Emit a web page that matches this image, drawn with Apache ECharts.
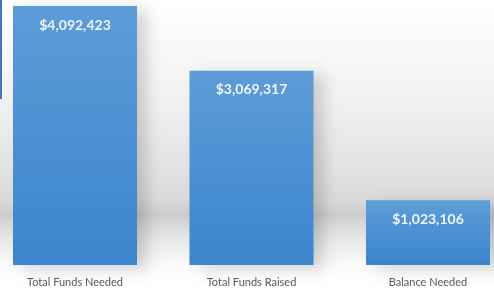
<!DOCTYPE html>
<html>
<head>
<meta charset="utf-8">
<script src="https://cdn.jsdelivr.net/npm/echarts@6/dist/echarts.min.js"></script>
<style>
    html, body { margin: 0; padding: 0; background: #ffffff; }
    #chart { width: 494px; height: 289px; }
</style>
</head>
<body>
<div id="chart"></div>
<script>
const categories = ['Total Funds Needed', 'Total Funds Raised', 'Balance Needed'];
const amounts = [4092423, 3069317, 1023106];

(function () {
    const chart = echarts.init(document.getElementById('chart'));
    const option = {
        animation: false,
        backgroundColor: {
            type: 'linear', x: 0, y: 0, x2: 0, y2: 1,
            colorStops: [
                { offset: 0, color: '#ffffff' },
                { offset: 0.35, color: '#f1f1f1' },
                { offset: 0.62, color: '#e0e0e0' },
                { offset: 0.7, color: '#d8d8d8' },
                { offset: 0.74, color: '#cdcdcd' },
                { offset: 0.83, color: '#e8e8e8' },
                { offset: 0.92, color: '#fbfbfb' },
                { offset: 1, color: '#ffffff' }
            ]
        },
        grid: {
            left: 75,
            right: 66,
            top: 6,
            bottom: 24,
            containLabel: false
        },
        xAxis: {
            type: 'category',
            data: categories,
            boundaryGap: false,
            axisLine: { show: false },
            axisTick: { show: false },
            axisLabel: {
                color: '#595959',
                fontFamily: 'Lato',
                fontSize: 11,
                margin: 12
            }
        },
        yAxis: {
            type: 'value',
            min: 0,
            max: 4092423,
            show: false,
            splitLine: { show: false }
        },
        series: [{
            type: 'bar',
            data: amounts,
            barWidth: 124,
            clip: false,
            itemStyle: {
                color: {
                    type: 'linear', x: 0, y: 0, x2: 0, y2: 1,
                    colorStops: [
                        { offset: 0, color: '#5d9cd7' },
                        { offset: 1, color: '#3b85ce' }
                    ]
                },
                shadowColor: 'rgba(0,0,0,0.16)',
                shadowBlur: 14,
                shadowOffsetX: 10,
                shadowOffsetY: 4
            },
            label: {
                show: true,
                position: 'insideTop',
                distance: 12,
                color: '#eef4fb',
                fontFamily: 'Lato',
                fontWeight: 'bold',
                fontSize: 14,
                formatter: function (p) {
                    return '$' + p.value.toLocaleString('en-US');
                }
            }
        }],
        graphic: [{
            type: 'rect',
            shape: { x: 0, y: 0, width: 2, height: 99 },
            style: { fill: '#4472c4' }
        }]
    };
    chart.setOption(option);
})();
</script>
</body>
</html>
